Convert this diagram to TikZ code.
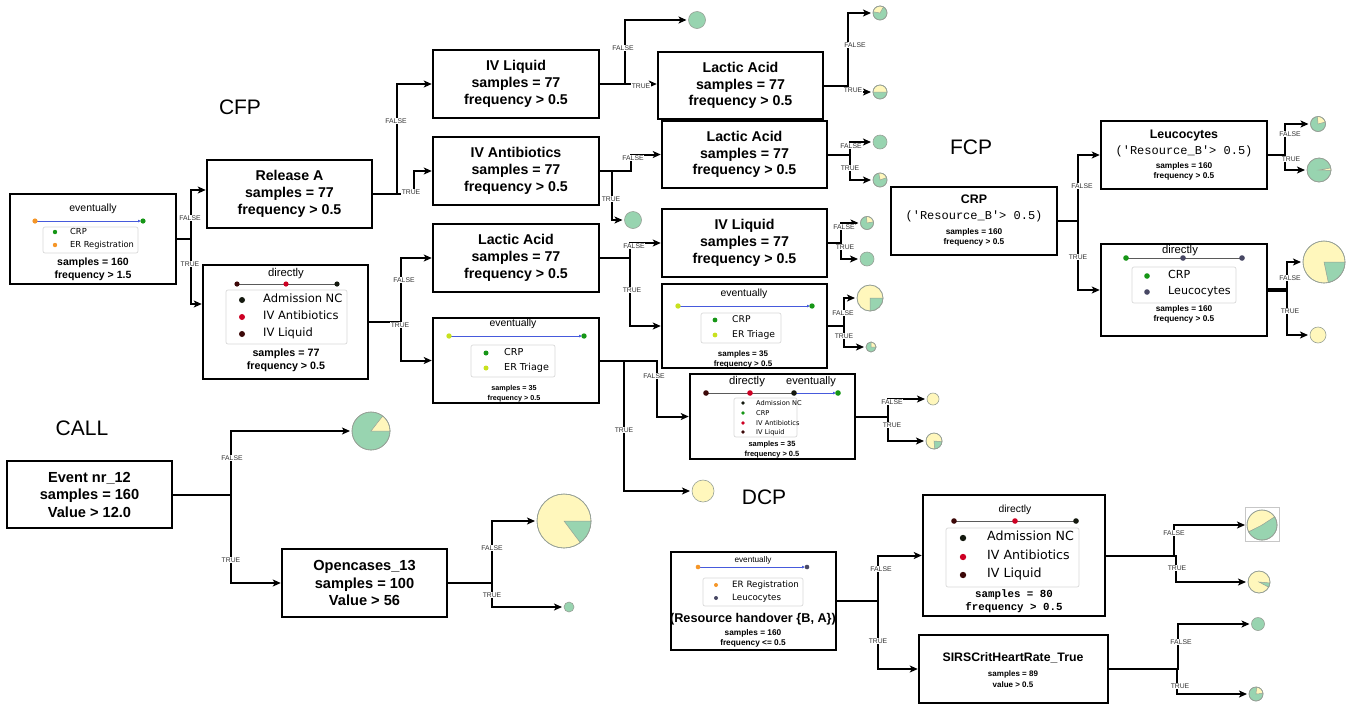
\documentclass[tikz,border=0pt]{standalone}
\usepackage{fontspec}
\setmainfont{Liberation Sans}
\setmonofont{Liberation Mono}
\newfontfamily\dejavu{DejaVu Sans}
\usetikzlibrary{arrows.meta}

\definecolor{pgreen}{RGB}{152,212,176}
\definecolor{pyellow}{RGB}{255,247,188}
\definecolor{pedge}{RGB}{150,160,150}
\definecolor{cgreen}{RGB}{22,150,22}
\definecolor{corange}{RGB}{245,150,40}
\definecolor{cyg}{RGB}{200,225,30}
\definecolor{cadm}{RGB}{20,25,15}
\definecolor{cred}{RGB}{205,0,35}
\definecolor{cliq}{RGB}{60,8,8}
\definecolor{cleu}{RGB}{72,72,100}
\definecolor{cblue}{RGB}{70,90,220}
\definecolor{lblgray}{RGB}{50,50,50}
\definecolor{seqline}{RGB}{90,90,90}

\newcommand{\circleaf}[5]{%
  \node[leaf, fill=#5, minimum size=2*#4pt] (#1) at (#2,#3) {};}
\newcommand{\pieleaf}[8]{%
  \node[leaf, fill=#5, minimum size=2*#4pt] (#1) at (#2,#3) {};
  \filldraw[fill=#6, draw=pedge, line width=0.5pt] (#1.center) -- ++(#7:#4pt) arc[start angle=#7, end angle=#8, radius=#4pt] -- cycle;
  \draw[pedge, line width=0.6pt] (#1.center) circle[radius=#4pt];}

\begin{document}
\begin{tikzpicture}[x=1pt,y=-1pt,
  box/.style={draw=black, line width=2.5pt, fill=white, inner sep=0pt},
  bt/.style={font=\fontsize{14.2}{16.8}\selectfont\bfseries, align=center},
  bt2/.style={font=\fontsize{14.6}{17.5}\selectfont\bfseries, align=center},
  conn/.style={line width=2pt, -{Stealth[length=8pt,width=7pt,inset=2pt]}},
  toleaf/.style={shorten >=2pt},
  leaf/.style={circle, draw=pedge, line width=0.6pt, inner sep=0pt, outer sep=0pt},
  lbl/.style={font=\fontsize{6.8}{7}\selectfont, text=lblgray, fill=white, inner sep=0.6pt},
  sec/.style={font=\fontsize{21}{24}\selectfont},
  legf/.style={draw=black!15, line width=0.7pt, rounded corners=2pt, fill=white},
  nb/.style={inner sep=0pt, anchor=mid, font=\fontsize{#1}{#1}\selectfont\bfseries},
  nr/.style={inner sep=0pt, anchor=mid, font=\fontsize{#1}{#1}\selectfont},
  nd/.style={inner sep=0pt, anchor=mid west, font=\dejavu\fontsize{#1}{#1}\selectfont},
  nm/.style={inner sep=0pt, anchor=mid, font=\ttfamily\fontsize{#1}{#1}\selectfont},
  nmb/.style={inner sep=0pt, anchor=mid, font=\ttfamily\bfseries\fontsize{#1}{#1}\selectfont},
  seq/.style={seqline, line width=0.9pt},
  evl/.style={cblue, line width=0.9pt, -{Latex[length=3pt,width=3pt]}}
]
\useasboundingbox (0,0) rectangle (1351,705);
\fill[white] (0,0) rectangle (1351,705);

% section titles
\node[sec] (sCFP) at (240,107) {CFP};
\node[sec] (sFCP) at (971,147) {FCP};
\node[sec] (sCALL) at (82,428) {CALL};
\node[sec] (sDCP) at (764,497) {DCP};

%%%%%%%%%%%%%%%% CFP %%%%%%%%%%%%%%%%
\node[box, minimum width=166pt, minimum height=90pt] (root) at (93,239) {};
\node[nr=10.5] (r1) at (93,209) {eventually};
\draw[evl] (35,221) -- (141,221);
\fill[corange] (35,221) circle[radius=2.6pt];
\fill[cgreen] (143,221) circle[radius=2.6pt];
\draw[legf] (43,227) rectangle (138,253);
\fill[cgreen] (55,232) circle[radius=2.2pt];
\node[nd=8.3] (r2) at (70,232) {CRP};
\fill[corange] (55,245) circle[radius=2.2pt];
\node[nd=8.3] (r3) at (70,245) {ER Registration};
\node[nb=10.5] (r4) at (93,263) {samples = 160};
\node[nb=10.5] (r5) at (93,276) {frequency > 1.5};

\node[box, bt, minimum width=165pt, minimum height=68pt] (relA) at (289.5,194) {Release A\\samples = 77\\frequency > 0.5};

\node[box, minimum width=165pt, minimum height=114pt] (dirA) at (285.5,322) {};
\node[nr=11.3] (d1) at (286,274) {directly};
\draw[seq] (237,284) -- (337,284);
\fill[cliq] (237,284) circle[radius=2.6pt];
\fill[cred] (286,284) circle[radius=2.6pt];
\fill[cadm] (337,284) circle[radius=2.6pt];
\draw[legf] (226,290) rectangle (347,344);
\fill[cadm] (242,300) circle[radius=3pt];
\fill[cred] (242,317) circle[radius=3pt];
\fill[cliq] (242,334) circle[radius=3pt];
\node[nd=11.5] (d2) at (263,300) {Admission NC};
\node[nd=11.5] (d3) at (263,317) {IV Antibiotics};
\node[nd=11.5] (d4) at (263,334) {IV Liquid};
\node[nb=10.7] (d5) at (286,354) {samples = 77};
\node[nb=10.7] (d6) at (286,367) {frequency > 0.5};

\node[box, bt, minimum width=166pt, minimum height=68pt] (ivl1) at (516,84) {IV Liquid\\samples = 77\\frequency > 0.5};
\node[box, bt, minimum width=166pt, minimum height=68pt] (ivab) at (516,171) {IV Antibiotics\\samples = 77\\frequency > 0.5};
\node[box, bt, minimum width=165pt, minimum height=67pt] (la1) at (740.5,85.5) {Lactic Acid\\samples = 77\\frequency > 0.5};
\node[box, bt, minimum width=165pt, minimum height=67pt] (la2) at (744.5,154.5) {Lactic Acid\\samples = 77\\frequency > 0.5};
\node[box, bt, minimum width=166pt, minimum height=68pt] (la3) at (516,258) {Lactic Acid\\samples = 77\\frequency > 0.5};
\node[box, bt, minimum width=165pt, minimum height=68pt] (ivl3) at (744.5,243) {IV Liquid\\samples = 77\\frequency > 0.5};

\node[box, minimum width=166pt, minimum height=85pt] (ev1) at (516,360.5) {};
\node[nr=10.4] (e1) at (513,324) {eventually};
\draw[evl] (449,336) -- (582,336);
\fill[cyg] (449,336) circle[radius=2.7pt];
\fill[cgreen] (584,336) circle[radius=2.7pt];
\draw[legf] (471,345) rectangle (555,377);
\fill[cgreen] (486,353) circle[radius=2.5pt];
\fill[cyg] (486,368) circle[radius=2.5pt];
\node[nd=9.6] (e2) at (504,353) {CRP};
\node[nd=9.6] (e3) at (504,368) {ER Triage};
\node[nb=7.2] (e4) at (514,388) {samples = 35};
\node[nb=7.2] (e5) at (514,398) {frequency > 0.5};

\node[box, minimum width=165pt, minimum height=84pt] (ev2) at (744.5,326) {};
\node[nr=10.4] (f1) at (744,294) {eventually};
\draw[evl] (678,306) -- (810,306);
\fill[cyg] (678,306) circle[radius=2.7pt];
\fill[cgreen] (812,306) circle[radius=2.7pt];
\draw[legf] (701,313) rectangle (781,343);
\fill[cgreen] (715,320) circle[radius=2.4pt];
\fill[cyg] (715,335) circle[radius=2.4pt];
\node[nd=9.2] (f2) at (732,320) {CRP};
\node[nd=9.2] (f3) at (732,335) {ER Triage};
\node[nb=8] (f4) at (743,354) {samples = 35};
\node[nb=8] (f5) at (743,364) {frequency > 0.5};

\node[box, minimum width=165pt, minimum height=85pt] (de) at (772.5,416.5) {};
\node[nr=11.3] (g1) at (747,382) {directly};
\node[nr=11] (g2) at (811,382) {eventually};
\draw[seq] (706,393) -- (794,393);
\draw[evl] (794,393) -- (836,393);
\fill[cliq] (706,393) circle[radius=2.8pt];
\fill[cred] (750,393) circle[radius=2.8pt];
\fill[cadm] (794,393) circle[radius=2.8pt];
\fill[cgreen] (838,393) circle[radius=2.8pt];
\draw[legf] (734,398) rectangle (797,437);
\fill[cadm] (743,403) circle[radius=1.8pt];
\fill[cgreen] (743,413) circle[radius=1.8pt];
\fill[cred] (743,423) circle[radius=1.8pt];
\fill[cliq] (743,432) circle[radius=1.8pt];
\node[nd=6.6] (g3) at (756,403) {Admission NC};
\node[nd=6.6] (g4) at (756,413) {CRP};
\node[nd=6.6] (g5) at (756,423) {IV Antibiotics};
\node[nd=6.6] (g6) at (756,432) {IV Liquid};
\node[nb=7.5] (g7) at (772,444) {samples = 35};
\node[nb=7.5] (g8) at (772,454) {frequency > 0.5};

%%%%%%%%%%%%%%%% FCP %%%%%%%%%%%%%%%%
\node[box, minimum width=166pt, minimum height=68pt] (crp) at (974,221) {};
\node[nb=12.4] (h1) at (974,201) {CRP};
\node[nm=12] (h2) at (974,217) {('Resource\_B'> 0.5)};
\node[nb=8.3] (h3) at (974,232) {samples = 160};
\node[nb=8.3] (h4) at (974,242) {frequency > 0.5};

\node[box, minimum width=166pt, minimum height=68pt] (leu) at (1184,155) {};
\node[nb=12.4] (k1) at (1184,136) {Leucocytes};
\node[nm=12] (k2) at (1184,152) {('Resource\_B'> 0.5)};
\node[nb=8.3] (k3) at (1184,166) {samples = 160};
\node[nb=8.3] (k4) at (1184,176) {frequency > 0.5};

\node[box, minimum width=166pt, minimum height=92pt] (dirF) at (1184,290) {};
\node[nr=11.3] (m1) at (1180,251) {directly};
\draw[seq] (1126,258) -- (1242,258);
\fill[cgreen] (1126,258) circle[radius=2.8pt];
\fill[cleu] (1183,258) circle[radius=2.8pt];
\fill[cleu] (1242,258) circle[radius=2.8pt];
\draw[legf] (1132,267) rectangle (1236,303);
\fill[cgreen] (1147,276) circle[radius=2.8pt];
\fill[cleu] (1147,292) circle[radius=2.8pt];
\node[nd=11.1] (m2) at (1168,276) {CRP};
\node[nd=11.1] (m3) at (1168,292) {Leucocytes};
\node[nb=8.3] (m4) at (1184,309) {samples = 160};
\node[nb=8.3] (m5) at (1184,319) {frequency > 0.5};

%%%%%%%%%%%%%%%% CALL %%%%%%%%%%%%%%%%
\node[box, bt2, minimum width=165pt, minimum height=67pt] (ev12) at (89.5,494.5) {Event nr\_12\\samples = 160\\Value > 12.0};
\node[box, bt2, minimum width=165pt, minimum height=68pt] (open) at (364.5,583) {Opencases\_13\\samples = 100\\Value > 56};

%%%%%%%%%%%%%%%% DCP %%%%%%%%%%%%%%%%
\node[box, minimum width=165pt, minimum height=98pt] (rh) at (753.5,601) {};
\node[nr=8.2] (n1) at (753,560) {eventually};
\draw[evl] (698,567) -- (805,567);
\fill[corange] (698,567) circle[radius=2.3pt];
\fill[cleu] (807,567) circle[radius=2.3pt];
\draw[legf] (703,578) rectangle (803,606);
\fill[corange] (716,585) circle[radius=2pt];
\fill[cleu] (716,598) circle[radius=2pt];
\node[nd=8.7] (n2) at (732,585) {ER Registration};
\node[nd=8.7] (n3) at (732,598) {Leucocytes};
\node[nb=12.7] (n4) at (753,620) {(Resource handover \{B, A\})};
\node[nb=8.3] (n5) at (753,633) {samples = 160};
\node[nb=8.3] (n6) at (753,643) {frequency <= 0.5};

\node[box, minimum width=182pt, minimum height=121pt] (dirD) at (1014,555.5) {};
\node[nr=10.3] (o1) at (1015,510) {directly};
\draw[seq] (954,521) -- (1076,521);
\fill[cliq] (954,521) circle[radius=2.8pt];
\fill[cred] (1015,521) circle[radius=2.8pt];
\fill[cadm] (1076,521) circle[radius=2.8pt];
\draw[legf] (946,528) rectangle (1079,587);
\fill[cadm] (963,538) circle[radius=3.2pt];
\fill[cred] (963,557) circle[radius=3.2pt];
\fill[cliq] (963,575) circle[radius=3.2pt];
\node[nd=12.6] (o2) at (987,538) {Admission NC};
\node[nd=12.6] (o3) at (987,557) {IV Antibiotics};
\node[nd=12.6] (o4) at (987,575) {IV Liquid};
\node[nmb=10.8] (o5) at (1014,595) {samples = 80};
\node[nmb=10.8] (o6) at (1014,608) {frequency > 0.5};

\node[box, minimum width=189pt, minimum height=68pt] (sirs) at (1013.5,669) {};
\node[nb=12.3] (q1) at (1013,659) {SIRSCritHeartRate\_True};
\node[nb=8] (q2) at (1013,674) {samples = 89};
\node[nb=8] (q3) at (1013,685) {value > 0.5};

%%%%%%%%%%%%%%%% leaves %%%%%%%%%%%%%%%%
\circleaf{c1}{697}{20}{8.5}{pgreen}
\circleaf{c2}{633}{220}{8.5}{pgreen}
\pieleaf{p1}{880}{13}{7}{pgreen}{pyellow}{60}{170}
\pieleaf{p2}{880}{92}{7}{pgreen}{pyellow}{0}{180}
\circleaf{c3}{880}{142}{7}{pgreen}
\pieleaf{p3}{880}{180}{7}{pgreen}{pyellow}{20}{100}
\pieleaf{p4}{867}{223}{6.5}{pgreen}{pyellow}{10}{95}
\circleaf{c5}{867}{259}{7}{pgreen}
\pieleaf{p5}{870}{298}{13}{pyellow}{pgreen}{-90}{0}
\pieleaf{p6}{871}{347}{5}{pgreen}{pyellow}{0}{90}
\circleaf{c4}{703}{491}{11}{pyellow}
\circleaf{c6}{933}{399}{6}{pyellow}
\pieleaf{p7}{934}{441}{8}{pyellow}{pgreen}{-85}{-5}
\pieleaf{p8}{1318}{124}{7.5}{pgreen}{pyellow}{15}{95}
\pieleaf{p9}{1319}{170}{12}{pgreen}{pyellow}{-2}{10}
\pieleaf{p10}{1324}{262}{21}{pyellow}{pgreen}{-78}{0}
\circleaf{c7}{1318}{335}{8}{pyellow}
\pieleaf{p11}{371}{431}{19}{pgreen}{pyellow}{0}{52}
\pieleaf{p12}{564}{521}{27}{pyellow}{pgreen}{-53}{0}
\circleaf{c8}{569}{607}{5}{pgreen}
\draw[black!22, line width=0.6pt] (1245,507) rectangle (1279,541);
\pieleaf{p13}{1262}{525}{15}{pyellow}{pgreen}{-153}{33}
\pieleaf{p14}{1259}{582}{11}{pyellow}{pgreen}{-28}{-5}
\circleaf{c9}{1258}{624}{6.5}{pgreen}
\pieleaf{p15}{1256}{694}{7}{pgreen}{pyellow}{5}{85}

%%%%%%%%%%%%%%%% connectors %%%%%%%%%%%%%%%%
\draw[conn] (root.east) -- ++(14,0) |- ([yshift=4pt]relA.west);
\draw[conn] (root.east) -- ++(14,0) |- ([yshift=18pt]dirA.west);
\draw[conn] (relA.east) -- ++(24,0) |- (ivl1.west);
\draw[conn] (relA.east) -- ++(41,0) |- (ivab.west);
\draw[conn, toleaf] (ivl1.east) -- ++(25,0) |- (c1.west);
\draw[conn] (ivl1.east) -- (ivl1.east -| la1.west);
\draw[conn] (ivab.east) -- ++(31,0) |- (la2.west);
\draw[conn, toleaf] (ivab.east) -- ++(12,0) |- (c2.west);
\draw[conn, toleaf] (la1.east) -- ++(24,0) |- (p1.west);
\draw[conn, toleaf] (la1.east) -- ++(24,0) |- (p2.west);
\draw[conn, toleaf] (la2.east) -- ++(22,0) |- (c3.west);
\draw[conn, toleaf] (la2.east) -- ++(22,0) |- (p3.west);
\draw[conn] (dirA.east) -- ++(32,0) |- (la3.west);
\draw[conn] (dirA.east) -- ++(32,0) |- (ev1.west);
\draw[conn] (la3.east) -- ++(30,0) |- (ivl3.west);
\draw[conn] (la3.east) -- ++(30,0) |- (ev2.west);
\draw[conn] (ev1.east) -- ++(57,0) |- (de.west);
\draw[conn, toleaf] (ev1.east) -- ++(24,0) |- (c4.west);
\draw[conn, toleaf] (ivl3.east) -- ++(13,0) |- (p4.west);
\draw[conn, toleaf] (ivl3.east) -- ++(13,0) |- (c5.west);
\draw[conn, toleaf] (ev2.east) -- ++(16,0) |- (p5.west);
\draw[conn, toleaf] (ev2.east) -- ++(16,0) |- (p6.west);
\draw[conn, toleaf] (de.east) -- ++(32,0) |- (c6.west);
\draw[conn, toleaf] (de.east) -- ++(32,0) |- (p7.west);

\draw[conn] (crp.east) -- ++(20,0) |- (leu.west);
\draw[conn] (crp.east) -- ++(20,0) |- (dirF.west);
\draw[conn, toleaf] (leu.east) -- ++(17,0) |- (p8.west);
\draw[conn, toleaf] (leu.east) -- ++(17,0) |- (p9.west);
\draw[line width=3.2pt] (dirF.east) -- ++(19,0);
\draw[conn, toleaf] (dirF.east) -- ++(19,0) |- (p10.west);
\draw[conn, toleaf] (dirF.east) -- ++(19,0) |- (c7.west);

\draw[conn, toleaf] (ev12.east) -- ++(58,0) |- (p11.west);
\draw[conn] (ev12.east) -- ++(58,0) |- (open.west);
\draw[conn, toleaf] (open.east) -- ++(44,0) |- (p12.west);
\draw[conn, toleaf] (open.east) -- ++(44,0) |- (c8.west);

\draw[conn] (rh.east) -- ++(41,0) |- (dirD.west);
\draw[conn] (rh.east) -- ++(41,0) |- (sirs.west);
\draw[conn, toleaf] (dirD.east) -- ++(68,0) |- (p13.west);
\draw[conn, toleaf] (dirD.east) -- ++(70,0) |- (p14.west);
\draw[conn, toleaf] (sirs.east) -- ++(69,0) |- (c9.west);
\draw[conn, toleaf] (sirs.east) -- ++(68,0) |- (p15.west);

%%%%%%%%%%%%%%%% branch labels %%%%%%%%%%%%%%%%
\node[lbl] (l1) at (190,218) {FALSE};
\node[lbl] (l2) at (190,264) {TRUE};
\node[lbl] (l3) at (396,121) {FALSE};
\node[lbl] (l4) at (411,192) {TRUE};
\node[lbl] (l5) at (623,48) {FALSE};
\node[lbl] (l6) at (641,86) {TRUE};
\node[lbl] (l7) at (633,158) {FALSE};
\node[lbl] (l8) at (611,199) {TRUE};
\node[lbl] (l9) at (855,45) {FALSE};
\node[lbl] (l10) at (853,90) {TRUE};
\node[lbl] (l11) at (851,146) {FALSE};
\node[lbl] (l12) at (850,168) {TRUE};
\node[lbl] (l13) at (404,280) {FALSE};
\node[lbl] (l14) at (400,325) {TRUE};
\node[lbl] (l15) at (634,246) {FALSE};
\node[lbl] (l16) at (632,290) {TRUE};
\node[lbl] (l17) at (654,376) {FALSE};
\node[lbl] (l18) at (624,430) {TRUE};
\node[lbl] (l19) at (844,227) {FALSE};
\node[lbl] (l20) at (845,247) {TRUE};
\node[lbl] (l21) at (843,313) {FALSE};
\node[lbl] (l22) at (844,336) {TRUE};
\node[lbl] (l23) at (892,402) {FALSE};
\node[lbl] (l24) at (892,425) {TRUE};
\node[lbl] (l25) at (1082,186) {FALSE};
\node[lbl] (l26) at (1078,257) {TRUE};
\node[lbl] (l27) at (1290,134) {FALSE};
\node[lbl] (l28) at (1291,159) {TRUE};
\node[lbl] (l29) at (1290,278) {FALSE};
\node[lbl] (l30) at (1290,311) {TRUE};
\node[lbl] (l31) at (232,458) {FALSE};
\node[lbl] (l32) at (231,560) {TRUE};
\node[lbl] (l33) at (492,548) {FALSE};
\node[lbl] (l34) at (492,595) {TRUE};
\node[lbl] (l35) at (881,569) {FALSE};
\node[lbl] (l36) at (878,641) {TRUE};
\node[lbl] (l37) at (1174,533) {FALSE};
\node[lbl] (l38) at (1177,568) {TRUE};
\node[lbl] (l39) at (1181,642) {FALSE};
\node[lbl] (l40) at (1180,686) {TRUE};
\end{tikzpicture}
\end{document}
